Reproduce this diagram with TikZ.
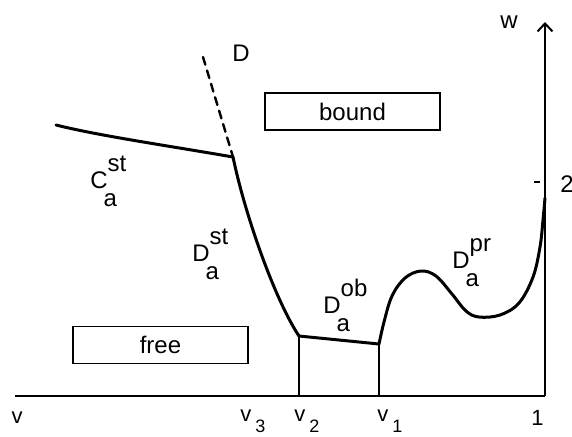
\documentclass[tikz,border=0pt]{standalone}
\usepackage{fontspec}
\setmainfont{Liberation Sans}
\usetikzlibrary{arrows.meta}

\newcommand{\phase}[3]{#1\rlap{\raisebox{8.5pt}{#2}}\kern-2pt\raisebox{-9pt}{#3}}
\newcommand{\vsub}[1]{v\kern2pt\raisebox{-5.5pt}{\fontsize{9}{10}\selectfont #1}}

\begin{document}
\begin{tikzpicture}[x=0.5pt, y=-0.5pt, font=\fontsize{12}{14}\selectfont,
    curve/.style={line width=1.5pt, line join=round, line cap=round},
    axis/.style={line width=1pt},
    region/.style={draw, line width=0.8pt, minimum width=87.5pt, minimum height=18.5pt, inner sep=0pt},
    lbl/.style={anchor=base west, inner sep=0pt}]
    \useasboundingbox (0,0) rectangle (572,436);

    % axes
    \coordinate (L) at (15,396);
    \coordinate (O) at (545,396);
    \coordinate (T) at (545,22);
    \draw[axis] (L) -- (O);
    \draw[axis, -{Straight Barb[length=4pt, width=7.5pt]}] (O) -- (T);
    \coordinate (tickA) at (534,182);
    \coordinate (tickB) at (540,182);
    \draw[axis] (tickA) -- (tickB);

    \node (w) at (509,22) {w};
    \node (two) at (567,184) {2};
    \node (v) [font=\fontsize{11}{13}\selectfont] at (17,418) {v};
    \node (v3) [lbl, font=\fontsize{11}{13}\selectfont] at (240,421) {\vsub{3}};
    \node (v2) [lbl, font=\fontsize{11}{13}\selectfont] at (294,421) {\vsub{2}};
    \node (v1) [lbl, font=\fontsize{11}{13}\selectfont] at (377,421) {\vsub{1}};
    \node (one) [lbl, font=\fontsize{11}{13}\selectfont] at (531,425) {1};

    % regions
    \node (bound) [region] at (352.5,111.5) {bound};
    \node (free) [region] at (160.5,345) {free};

    % phase boundaries
    \coordinate (Cst) at (56,125);
    \coordinate (K) at (233,157);
    \coordinate (Dtop) at (203,57);
    \coordinate (B2) at (299,336);
    \coordinate (B1) at (379,344);
    \coordinate (B2foot) at (299,396);
    \coordinate (B1foot) at (379,396);

    \draw[curve] (Cst) .. controls (100,136) and (170,146) .. (K);
    \draw[curve, line width=1.2pt, dash pattern=on 4pt off 3pt] (Dtop) -- (K);
    \draw[curve] (K) .. controls (245,215) and (275,300) .. (B2);
    \draw[curve] (B2) -- (B1);
    \draw[line width=0.8pt] (B2) -- (B2foot);
    \draw[line width=0.8pt] (B1) -- (B1foot);
    \draw[curve] plot[smooth, tension=0.6] coordinates {(379,344) (384,322) (392,296)
        (405,278) (421,271) (436,276) (452,294) (466,311) (479,317) (500,315)
        (519,303) (533,277) (540,247) (543,220) (545,198)};

    \node (D) at (241,53) {D};
    \node (Cast) [lbl] at (90,188) {\phase{C}{st}{a}};
    \node (Dast) [lbl] at (192,261) {\phase{D}{st}{a}};
    \node (Daob) [lbl] at (323,313) {\phase{D}{ob}{a}};
    \node (Dapr) [lbl] at (452,268) {\phase{D}{pr}{a}};
\end{tikzpicture}
\end{document}
